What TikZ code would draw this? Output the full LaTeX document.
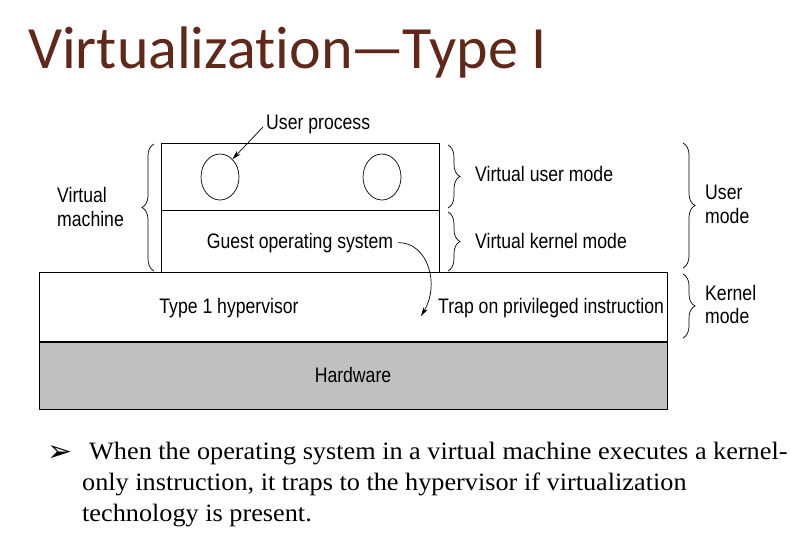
\documentclass[tikz,border=0pt]{standalone}
\usepackage{fontspec}
\setmainfont[FakeStretch=0.84]{Liberation Sans}
\newfontfamily\titlefont[Ligatures={NoCommon}]{Carlito}
\newfontfamily\bodyserif[FakeStretch=1.05]{Liberation Serif}
\newfontfamily\dejavu{DejaVu Sans}
\usetikzlibrary{decorations.pathreplacing,arrows.meta,shapes.geometric}
\definecolor{titlebrown}{RGB}{94,40,26}
\definecolor{hwgray}{RGB}{192,192,192}
\begin{document}
\begin{tikzpicture}[x=1pt,y=-1pt,
  lbl/.style={font=\fontsize{21}{24}\selectfont, inner sep=0pt, anchor=base west},
  lblc/.style={font=\fontsize{21}{24}\selectfont, inner sep=0pt, anchor=base},
  layer/.style={draw, line width=0.8pt, inner sep=0pt, anchor=north west},
  proc/.style={draw, ellipse, line width=0.7pt, minimum width=38pt, minimum height=46pt, inner sep=0pt},
  arr/.style={line width=0.7pt, -{Stealth[length=9pt,width=5pt]}},
  brc/.style={decorate, decoration={brace, amplitude=12pt}, line width=0.7pt},
  bodytxt/.style={font=\bodyserif\fontsize{25}{30}\selectfont, inner sep=0pt, anchor=base west}]
\useasboundingbox (0,0) rectangle (791,541);
% title
\node[font=\titlefont\fontsize{60}{60}\selectfont, text=titlebrown, anchor=base west, inner sep=0pt] (title) at (28,68) {Virtualization\kern-2pt—\kern-2pt Type I};
% layers
\node[layer, minimum width=278pt, minimum height=67pt] (vum) at (161,143) {};
\node[layer, minimum width=278pt, minimum height=62pt] (vkm) at (161,210) {};
\node[layer, minimum width=628pt, minimum height=69pt] (hyp) at (39,272) {};
\node[layer, fill=hwgray, minimum width=628pt, minimum height=68pt] (hw) at (39,341) {};
\draw[line width=2.5pt] (hyp.south west) -- (hyp.south east);
% processes
\node[proc] (p1) at (220,177) {};
\node[proc] (p2) at (382,177) {};
% labels
\node[lbl] (up) at (266,129) {User process};
\node[lblc] (gos) at (300,248) {Guest operating system};
\node[lblc] (t1) at (229,313) {Type 1 hypervisor};
\node[lbl] (trap) at (438,313) {Trap on privileged instruction};
\node[lblc] (hwl) at (353,382) {Hardware};
\node[lbl] (vm1) at (57,202) {Virtual};
\node[lbl] (vm2) at (57,226) {machine};
\node[lbl] (vu) at (475,181) {Virtual user mode};
\node[lbl] (vk) at (475,248) {Virtual kernel mode};
\node[lbl] (um1) at (705,199) {User};
\node[lbl] (um2) at (705,223) {mode};
\node[lbl] (km1) at (705,300) {Kernel};
\node[lbl] (km2) at (705,323) {mode};
% arrows
\draw[arr] ([xshift=-3pt,yshift=-3pt]up.west) -- (p1.55);
\coordinate (traptip) at (421,316);
\draw[arr] ([xshift=5pt]gos.east) .. controls +(30,0) and +(19,-31) .. (traptip);
% braces
\draw[brc] (154,271) -- (154,144);
\draw[brc] (448,145) -- (448,208);
\draw[brc] (448,212) -- (448,271);
\draw[brc] (683,143) -- (683,268);
\draw[brc] (683,274) -- (683,338);
% bullet text
\node[font=\dejavu\fontsize{30}{30}\selectfont, anchor=base west, inner sep=0pt] (bul) at (47,461) {➢};
\node[bodytxt] (l1) at (89,459) {When the operating system in a virtual machine executes a kernel-};
\node[bodytxt] (l2) at (82,490) {only instruction, it traps to the hypervisor if virtualization};
\node[bodytxt] (l3) at (82,521) {technology is present.};
\end{tikzpicture}
\end{document}
